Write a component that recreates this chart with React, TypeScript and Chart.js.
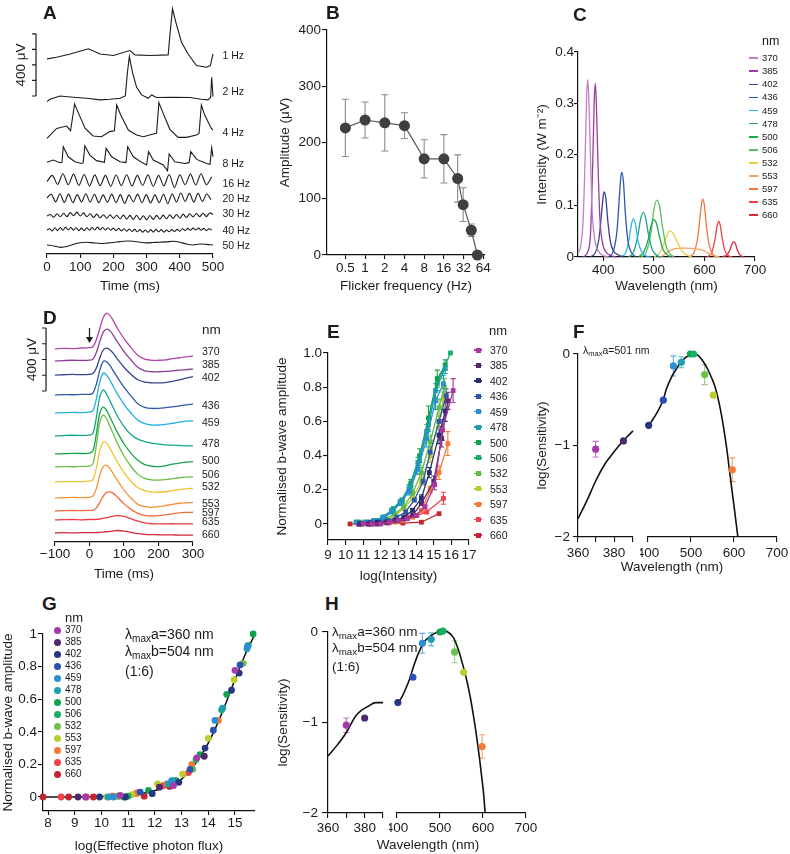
import React, { useEffect, useRef } from 'react';
import { Chart, registerables } from 'chart.js';

Chart.register(...registerables);

const FONT = "'Liberation Sans', Arial, Helvetica, sans-serif";
const INK = '#1b1b1b';
Chart.defaults.font.family = FONT;
Chart.defaults.color = INK;

// ---------------- Panel A: flicker ERG traces ----------------
const A_LABELS = ['1 Hz', '2 Hz', '4 Hz', '8 Hz', '16 Hz', '20 Hz', '30 Hz', '40 Hz', '50 Hz'];
const A_OFFSET = [1258, 1000, 780, 593, 477, 361, 245, 155, 58];
const A_T1 = [0, 29, 70, 125, 160, 200, 250, 265, 310, 365, 370, 378, 388, 405, 425, 450, 480, 492, 500];
const A_V1 = [0, 11, 32, 65, 32, 22, 54, 26, 22, 26, 150, 323, 237, 108, 32, -43, -54, -43, 32];
const A_T2 = [0, 9, 39, 79, 120, 160, 190, 220, 236, 242, 248, 258, 270, 285, 305, 315, 330, 380, 430, 465, 485, 493, 496, 500];
const A_V2 = [-17, -2, 19, 11, 4, -6, -2, 4, 19, 166, 273, 166, 75, 26, 4, 26, 9, 11, 9, -2, -6, 11, 140, 15];
const A_T4 = [0, 29, 59, 71, 83, 95, 115, 139, 164, 189, 203, 210, 222, 245, 270, 290, 320, 330, 337, 350, 370, 395, 420, 450, 458, 465, 475, 495, 500];
const A_V4 = [-34, 30, 45, 15, 187, 127, 30, -19, -24, 9, 15, 181, 116, 19, -13, -24, -6, -2, 196, 127, 24, -28, -28, -13, -2, 181, 116, 30, 19];
const A_T8 = [0, 19, 39, 45, 49, 64, 84, 104, 109, 114, 129, 149, 173, 178, 195, 220, 238, 243, 260, 285, 300, 306, 320, 350, 363, 368, 385, 415, 428, 433, 451, 481, 491, 496, 500];
const A_V8 = [-2, 13, -4, -2, 99, 34, 2, -9, -4, 105, 45, 9, -2, 88, 34, 2, -4, 99, 34, -2, -19, 67, 13, -19, -56, 52, 2, -9, -4, 67, 17, -9, -15, 92, 34];
const A_T16 = [0, 16, 32, 48, 64, 80, 96, 112, 128, 144, 160, 176, 192, 208, 224, 240, 256, 272, 288, 304, 320, 336, 352, 368, 384, 400, 416, 432, 448, 464, 480, 496];
const A_V16 = [-10, 30, -28, 40, -30, 38, -35, 36, -38, 33, -36, 30, -40, 32, -36, 34, -38, 30, -35, 33, -40, 30, -38, 36, -48, 34, -30, 38, -32, 40, -30, 20];
const A_T20 = [0, 13, 26, 39, 52, 65, 78, 91, 104, 117, 130, 143, 156, 169, 182, 195, 208, 221, 234, 247, 260, 273, 286, 299, 312, 325, 338, 351, 364, 377, 390, 403, 416, 429, 442, 455, 468, 481, 494];
const A_V20 = [0, 25, -25, 28, -28, 25, -30, 22, -25, 28, -26, 24, -30, 20, -28, 25, -30, 22, -35, 20, -25, 25, -30, 22, -32, 20, -30, 24, -36, 28, -26, 32, -22, 30, -26, 30, -22, 26, -10];
const A_T30 = [0, 10, 20, 30, 40, 50, 60, 70, 80, 90, 100, 110, 120, 130, 140, 150, 160, 170, 180, 190, 200, 210, 220, 230, 240, 250, 260, 270, 280, 290, 300, 310, 320, 330, 340, 350, 360, 370, 380, 390, 400, 410, 420, 430, 440, 450, 460, 470, 480, 490, 500];
const A_V30 = [0, 10, -8, 15, -5, 18, -4, 22, 2, 25, 0, 20, -5, 15, -10, 12, -12, 8, -15, 8, -15, 5, -18, 6, -20, 4, -22, 5, -24, 2, -25, 3, -22, 4, -20, 6, -18, 8, -16, 10, -14, 12, -10, 15, -6, 16, -4, 18, -4, 20, 10];
const A_T40 = [0, 8, 16, 24, 32, 40, 48, 56, 64, 72, 80, 88, 96, 104, 112, 120, 128, 136, 144, 152, 160, 168, 176, 184, 192, 200, 208, 216, 224, 232, 240, 248, 256, 264, 272, 280, 288, 296, 304, 312, 320, 328, 336, 344, 352, 360, 368, 376, 384, 392, 400, 408, 416, 424, 432, 440, 448, 456, 464, 472, 480, 488, 496];
const A_V40 = [0, 8, -6, 14, -4, 16, -2, 18, 0, 16, -2, 14, -4, 12, -4, 14, -2, 16, 0, 18, 2, 16, 0, 14, -2, 12, -4, 10, -6, 8, -8, 6, -10, 4, -12, 2, -14, 0, -15, 2, -14, 4, -12, 2, -14, 0, -12, 2, -10, 4, -8, 8, -4, 10, -2, 12, 0, 12, -2, 10, -4, 8, 0];
const A_T50 = [0, 20, 40, 60, 80, 100, 120, 140, 160, 180, 200, 220, 240, 260, 280, 300, 320, 340, 360, 380, 400, 420, 440, 460, 480, 500];
const A_V50 = [0, -6, -15, -10, 5, 15, 18, 14, 10, 12, 16, 22, 26, 24, 18, 14, 16, 18, 20, 24, 18, 6, 0, 6, 4, 0];
const A_TENSION = [0, 0, 0, 0, 0.3, 0.3, 0.3, 0.3, 0.3];
const A_XTICKS = [0, 100, 200, 300, 400, 500];
const A_BAR = [1019, 1119, 1219, 1319, 1419];

// ---------------- Panel B: flicker amplitude ----------------
const B_FREQ = [0.5, 1, 2, 4, 8, 16, 26, 31.5, 42, 52];
const B_AMP = [226, 240, 235, 230, 171, 171, 136, 89.5, 44, 0];
const B_ERR = [51, 32, 50, 23, 34, 43, 42, 30, 11, 0];
const B_XTICKS = [0.5, 1, 2, 4, 8, 16, 32, 64];
const B_YTICKS = [0, 100, 200, 300, 400];

// ---------------- Shared wavelengths ----------------
const NM = ['370', '385', '402', '436', '459', '478', '500', '506', '532', '553', '597', '635', '660'];

// ---------------- Panel C: LED spectra ----------------
const C_COL = ['#c47fcb', '#9c3da3', '#37418f', '#2f58ad', '#2cb3e6', '#21a386', '#1fa750', '#5dbf5c', '#e9cf3a', '#f5a469', '#f4753a', '#ef4048', '#e02a3a'];
const C_WL = [
  [350, 355, 360, 364, 367, 369, 371, 374, 378, 383, 390, 400, 410],
  [360, 370, 375, 379, 382, 384, 386, 389, 393, 398, 405, 415, 425],
  [375, 385, 392, 397, 400, 402, 405, 409, 414, 420, 430, 440],
  [410, 420, 427, 432, 435, 437, 440, 444, 449, 456, 465],
  [435, 445, 451, 456, 460, 464, 469, 476, 485, 495],
  [450, 460, 468, 474, 479, 484, 490, 498, 508, 515],
  [470, 480, 489, 495, 500, 505, 511, 518, 527, 535],
  [475, 485, 494, 500, 506, 511, 517, 524, 532, 540],
  [500, 510, 518, 525, 532, 538, 546, 555, 565, 575],
  [515, 525, 535, 545, 560, 575, 590, 600, 610, 620, 630],
  [570, 580, 587, 592, 595, 597, 600, 604, 609, 616, 625],
  [605, 614, 620, 625, 628, 631, 635, 640, 647, 655],
  [635, 644, 650, 655, 658, 661, 665, 670, 678],
];
const C_I = [
  [0.008, 0.02, 0.07, 0.19, 0.31, 0.346, 0.32, 0.22, 0.09, 0.035, 0.012, 0.003, 0],
  [0, 0.012, 0.05, 0.18, 0.3, 0.339, 0.31, 0.2, 0.08, 0.03, 0.01, 0.003, 0],
  [0, 0.01, 0.04, 0.09, 0.12, 0.127, 0.115, 0.07, 0.03, 0.012, 0.004, 0],
  [0, 0.012, 0.05, 0.12, 0.158, 0.165, 0.145, 0.08, 0.03, 0.008, 0],
  [0, 0.01, 0.035, 0.065, 0.075, 0.062, 0.03, 0.01, 0.002, 0],
  [0, 0.01, 0.04, 0.075, 0.087, 0.075, 0.04, 0.012, 0.002, 0],
  [0, 0.01, 0.035, 0.063, 0.073, 0.066, 0.04, 0.015, 0.004, 0],
  [0, 0.01, 0.045, 0.092, 0.111, 0.1, 0.06, 0.022, 0.006, 0],
  [0, 0.006, 0.02, 0.04, 0.051, 0.046, 0.03, 0.013, 0.004, 0],
  [0, 0.008, 0.014, 0.017, 0.0175, 0.017, 0.015, 0.012, 0.006, 0.002, 0],
  [0, 0.01, 0.04, 0.085, 0.108, 0.113, 0.1, 0.06, 0.025, 0.006, 0],
  [0, 0.008, 0.03, 0.06, 0.07, 0.063, 0.038, 0.014, 0.003, 0],
  [0, 0.004, 0.013, 0.026, 0.03, 0.027, 0.014, 0.004, 0],
];

// ---------------- Panel D: spectral ERG traces ----------------
const D_COL = ['#b145ad', '#8e3c99', '#38468f', '#2f58ad', '#25aee3', '#16a58a', '#17a24a', '#6bbf45', '#f2c230', '#f5923a', '#f26b3d', '#ee3b45', '#cf2a3a'];
const D_OFFSET = [1226, 1149, 1060, 933, 819, 673, 559, 476, 381, 279, 197, 140, 57];
const D_T = [-100, -75, -50, -25, 0, 10, 20, 30, 40, 50, 60, 70, 80, 100, 120, 140, 160, 180, 200, 220, 240, 260, 280, 300];
const D_V = [
  [0, 4, 2, 6, 8, 14, 60, 130, 200, 227, 210, 175, 135, 65, 10, -40, -65, -72, -72, -70, -62, -56, -50, -45],
  [0, 3, 5, 4, 6, 12, 55, 125, 185, 203, 190, 160, 125, 60, 8, -40, -62, -68, -68, -66, -62, -58, -54, -51],
  [0, 2, 4, 3, 5, 10, 45, 110, 160, 171, 160, 135, 105, 50, 5, -30, -45, -49, -49, -48, -40, -30, -20, -10],
  [0, 3, 2, 4, 5, 12, 70, 160, 214, 210, 185, 150, 115, 50, -5, -55, -78, -85, -84, -80, -75, -68, -62, -57],
  [0, 2, 4, 3, 6, 15, 90, 200, 254, 240, 205, 165, 125, 55, 0, -45, -68, -76, -76, -72, -66, -58, -52, -49],
  [0, 3, 5, 4, 6, 18, 120, 250, 292, 265, 220, 175, 130, 60, 10, -20, -35, -45, -52, -56, -58, -60, -62, -62],
  [0, 2, 4, 3, 5, 20, 130, 260, 298, 275, 230, 185, 140, 65, 5, -40, -68, -78, -80, -75, -65, -58, -52, -49],
  [0, 3, 2, 4, 6, 22, 140, 285, 330, 305, 255, 205, 155, 70, 5, -45, -72, -82, -83, -80, -74, -68, -64, -61],
  [0, 2, 3, 2, 5, 15, 90, 200, 255, 245, 210, 170, 130, 60, 5, -35, -55, -63, -65, -62, -55, -48, -43, -40],
  [0, 2, 4, 3, 5, 12, 60, 145, 200, 208, 185, 150, 115, 50, 0, -40, -55, -59, -55, -48, -40, -33, -30, -27],
  [0, 2, 3, 2, 4, 6, 20, 55, 95, 118, 121, 110, 90, 45, 10, -15, -28, -32, -30, -25, -18, -12, -9, -8],
  [0, 2, 3, 1, 3, 3, 4, 6, 10, 15, 20, 24, 27, 22, 8, -8, -18, -24, -25, -25, -24, -25, -25, -25],
  [0, 2, 1, 2, 2, 2, 3, 4, 6, 8, 10, 13, 16, 12, 4, -4, -8, -10, -11, -12, -12, -13, -13, -13],
];
const D_XTICKS = [-100, 0, 100, 200, 300];
const D_BAR = [959, 1059, 1159, 1259, 1359];

// ---------------- Panel E: intensity-response ----------------
const E_COL = ['#a8379f', '#55296f', '#272f6e', '#2e57aa', '#2a8fd1', '#1f9db1', '#11a04e', '#17ab6a', '#5fbb46', '#bfca32', '#f47b37', '#f1404d', '#c4262f'];
const E_X = [
  [11.0, 11.5, 12.0, 12.5, 13.0, 13.5, 14.0, 14.5, 15.05, 15.5, 16.1],
  [10.8, 11.3, 11.8, 12.3, 12.8, 13.3, 13.8, 14.3, 15.0, 15.45, 15.8],
  [10.8, 11.3, 11.8, 12.3, 12.8, 13.3, 13.8, 14.3, 14.75, 15.3, 15.65],
  [10.9, 11.4, 11.9, 12.4, 12.9, 13.4, 13.9, 14.4, 14.8, 15.3, 15.7],
  [10.6, 11.1, 11.6, 12.1, 12.6, 13.1, 13.6, 14.1, 14.6, 15.1, 15.55],
  [10.6, 11.1, 11.6, 12.1, 12.6, 13.1, 13.6, 14.1, 14.6, 15.1, 15.65],
  [10.7, 11.2, 11.7, 12.2, 12.7, 13.2, 13.7, 14.2, 14.7, 15.2, 15.65],
  [10.7, 11.2, 11.7, 12.2, 12.7, 13.2, 13.7, 14.2, 14.7, 15.2, 15.95],
  [10.8, 11.3, 11.8, 12.3, 12.8, 13.3, 13.8, 14.3, 14.8, 15.3, 15.6],
  [10.8, 11.3, 11.8, 12.3, 12.8, 13.3, 13.8, 14.3, 14.8, 15.3, 15.55],
  [10.8, 11.3, 11.8, 12.3, 12.8, 13.3, 13.8, 14.3, 14.8, 15.3, 15.8],
  [10.7, 11.5, 12.3, 13.15, 13.5, 14.05, 14.6, 15.55],
  [10.25, 11.5, 12.4, 13.25, 14.3, 15.3],
];
const E_Y = [
  [0, 0, 0, 0.01, 0.02, 0.03, 0.05, 0.1, 0.23, 0.55, 0.78],
  [0, 0, 0, 0.01, 0.02, 0.03, 0.05, 0.12, 0.25, 0.5, 0.72],
  [0, 0, 0.01, 0.01, 0.02, 0.04, 0.08, 0.15, 0.3, 0.52, 0.66],
  [0, 0.01, 0.01, 0.02, 0.04, 0.07, 0.14, 0.25, 0.42, 0.6, 0.75],
  [0.01, 0.01, 0.02, 0.03, 0.07, 0.12, 0.19, 0.32, 0.5, 0.72, 0.82],
  [0.01, 0.01, 0.02, 0.04, 0.08, 0.13, 0.21, 0.36, 0.54, 0.78, 0.91],
  [0.01, 0.01, 0.02, 0.04, 0.09, 0.14, 0.24, 0.4, 0.62, 0.85, 0.93],
  [0.01, 0.01, 0.02, 0.04, 0.08, 0.13, 0.22, 0.37, 0.58, 0.82, 1.0],
  [0.01, 0.01, 0.02, 0.03, 0.06, 0.1, 0.18, 0.3, 0.48, 0.68, 0.8],
  [0, 0.01, 0.01, 0.02, 0.05, 0.09, 0.15, 0.25, 0.4, 0.6, 0.73],
  [0, 0, 0, 0.01, 0.01, 0.02, 0.04, 0.08, 0.2, 0.3, 0.47],
  [0, 0, 0.01, 0.02, 0.04, 0.05, 0.07, 0.15],
  [0, 0, 0.005, 0.005, 0.01, 0.06],
];
const E_ERR = [
  [0, 0, 0, 0, 0, 0, 0, 0.01, 0.03, 0.06, 0.07],
  [0, 0, 0, 0, 0, 0, 0, 0.01, 0.03, 0.05, 0.05],
  [0, 0, 0, 0, 0, 0, 0.01, 0.02, 0.03, 0.05, 0.06],
  [0, 0, 0, 0, 0, 0.01, 0.01, 0.02, 0.03, 0.04, 0.04],
  [0, 0, 0, 0, 0.01, 0.01, 0.02, 0.03, 0.05, 0.05, 0.05],
  [0, 0, 0, 0, 0, 0.01, 0.02, 0.03, 0.04, 0.04, 0.03],
  [0, 0, 0, 0, 0, 0.01, 0.02, 0.04, 0.07, 0.05, 0.03],
  [0, 0, 0, 0, 0, 0.01, 0.02, 0.03, 0.04, 0.04, 0],
  [0, 0, 0, 0, 0, 0.01, 0.02, 0.03, 0.04, 0.05, 0.05],
  [0, 0, 0, 0, 0, 0.01, 0.01, 0.02, 0.04, 0.04, 0.04],
  [0, 0, 0, 0, 0, 0, 0.01, 0.01, 0.02, 0.04, 0.07],
  [0, 0, 0, 0, 0, 0, 0.01, 0.035],
  [0, 0, 0, 0, 0, 0],
];
const E_XTICKS = [9, 10, 11, 12, 13, 14, 15, 16, 17];
const E_YTICKS = [0, 0.2, 0.4, 0.6, 0.8, 1.0];

// ---------------- Panel G: normalised vs effective flux ----------------
const G_COL = ['#a63aa9', '#4d2969', '#263682', '#2a52b0', '#2a8ed4', '#1e9db5', '#12a150', '#16b064', '#6cc04a', '#bccd31', '#f47b37', '#f0404b', '#c02632'];
const G_X = [
  [9.4, 10.7, 12.7, 13.57, 15.0],
  [9.12, 12.17, 13.85],
  [9.93, 10.9, 11.9, 12.9, 13.88, 14.87, 15.16],
  [11.45, 13.32, 14.19, 15.19],
  [10.45, 12.63, 14.25, 15.47],
  [10.25, 12.5, 14.54, 15.45],
  [10.83, 11.76, 12.76, 13.69, 14.69, 15.68],
  [11.0, 12.8, 13.54, 14.5, 15.5],
  [10.6, 13.42, 15.31],
  [10.2, 11.14, 12.1, 13.04, 14.0, 14.97],
  [10.45, 11.3, 12.45, 13.38, 14.38],
  [8.49, 9.43, 10.4, 11.33, 12.3, 13.26],
  [7.81, 8.77, 9.7, 10.64, 11.6, 12.55],
];
const G_Y = [
  [0, 0.01, 0.07, 0.24, 0.777],
  [0, 0.06, 0.25],
  [0, 0, 0.02, 0.09, 0.3, 0.655, 0.76],
  [0.03, 0.17, 0.41, 0.81],
  [0, 0.1, 0.47, 0.925],
  [0, 0.08, 0.545, 0.91],
  [0, 0.04, 0.1, 0.26, 0.63, 1.0],
  [0.005, 0.1, 0.23, 0.535, 0.93],
  [0.005, 0.17, 0.82],
  [0, 0.015, 0.08, 0.14, 0.36, 0.72],
  [0.005, 0.02, 0.08, 0.2, 0.47],
  [0, 0, 0.005, 0.025, 0.07, 0.15],
  [0, 0, 0, 0.005, 0.005, 0.065],
];
const G_FIT_X = [7.81, 9, 10, 10.5, 11, 11.5, 12, 12.5, 13, 13.5, 14, 14.5, 15, 15.4, 15.75];
const G_FIT_Y = [0, 0, 0.003, 0.006, 0.012, 0.022, 0.04, 0.065, 0.11, 0.2, 0.33, 0.51, 0.72, 0.88, 1.0];
const G_XTICKS = [8, 9, 10, 11, 12, 13, 14, 15];
const G_YTICKS = [0, 0.2, 0.4, 0.6, 0.8, 1];

// ---------------- Panels F & H: spectral sensitivity ----------------
const F_WL = [369.8, 385.2, 401.5, 435.6, 458.9, 477.5, 498.5, 506, 531.7, 551.9, 596];
const F_LOGS = [-1.04, -0.95, -0.78, -0.505, -0.13, -0.09, 0, 0, -0.225, -0.45, -1.265];
const F_ERR = [0.085, 0, 0, 0, 0.11, 0.06, 0, 0, 0.11, 0, 0.13];
const F_FITL_X = [360, 365, 370, 375, 378, 382, 385, 388, 390.5];
const F_FITL_Y = [-1.8, -1.6, -1.38, -1.2, -1.12, -1.02, -0.95, -0.89, -0.84];
const F_FITR_X = [402, 412, 424, 435, 443, 455, 467, 480, 490, 500, 508, 515, 525, 536, 546, 556, 566, 575, 583, 591, 600, 609];
const F_FITR_Y = [-0.78, -0.71, -0.615, -0.505, -0.38, -0.25, -0.155, -0.07, -0.03, -0.005, 0, -0.01, -0.06, -0.14, -0.24, -0.36, -0.55, -0.78, -1.03, -1.33, -1.66, -2.0];

const H_WL = [370, 380, 402, 437, 459, 479.5, 500, 507, 534, 555, 598];
const H_LOGS = [-1.03, -0.95, -0.78, -0.5, -0.125, -0.08, 0, 0.01, -0.22, -0.445, -1.265];
const H_ERR = [0.08, 0, 0, 0, 0.11, 0.07, 0, 0, 0.12, 0, 0.13];
const H_FITL_X = [360, 365, 370, 375, 378, 382, 386, 390];
const H_FITL_Y = [-1.37, -1.25, -1.11, -0.93, -0.87, -0.82, -0.78, -0.78];
const H_FITR_X = [402, 410, 420, 430, 440, 453, 465, 476, 490, 500, 508, 518, 531, 543, 554, 562, 570, 578, 585, 592, 597, 602, 605];
const H_FITR_Y = [-0.78, -0.73, -0.63, -0.51, -0.36, -0.2, -0.1, -0.05, -0.01, 0.01, 0.02, 0, -0.06, -0.2, -0.38, -0.53, -0.71, -0.93, -1.15, -1.4, -1.6, -1.82, -2.0];
const S_YTICKS = [-2, -1, 0];

// ---------------- helpers ----------------
const zip = (xs: number[], ys: number[]) => xs.map((x, i) => ({ x, y: ys[i] }));
const fmtNum = (v: number) => (v < 0 ? '\u2212' + Math.abs(v) : String(v));

type Pad = { left: number; right: number; top: number; bottom: number };
type Geo = { x: number; y: number; w: number; h: number; pad: Pad };

function axis(p: any) {
  return {
    type: p.type || 'linear',
    display: p.display !== false,
    bounds: 'data',
    min: p.min,
    max: p.max,
    afterBuildTicks: (s: any) => {
      if (p.ticks) s.ticks = p.ticks.map((v: number) => ({ value: v }));
    },
    afterFit: (s: any) => {
      if (p.fitW != null) s.width = p.fitW;
      if (p.fitH != null) s.height = p.fitH;
      s.paddingLeft = 0;
      s.paddingRight = 0;
      s.paddingTop = 0;
      s.paddingBottom = 0;
    },
    ticks: {
      font: { size: 13.5, family: FONT },
      color: INK,
      padding: p.pad ?? 1,
      autoSkip: false,
      maxRotation: 0,
      minRotation: 0,
      callback: (v: any) => (p.labels ? p.labels(Number(v)) : fmtNum(Number(v))),
    },
    grid: { display: true, drawOnChartArea: false, drawTicks: true, tickLength: p.tickLen ?? 5, color: '#111', lineWidth: 1.1 },
    border: { display: true, color: '#111', width: 1.2 },
    title: p.title
      ? { display: true, text: p.title, font: { size: 13.5, family: FONT }, color: INK, padding: 0 }
      : { display: false },
  };
}

function options(g: Geo, scales: any, plugins: any = {}) {
  return {
    responsive: false,
    maintainAspectRatio: false,
    animation: false,
    events: [],
    layout: { padding: g.pad, autoPadding: false },
    plugins: { legend: { display: false }, tooltip: { enabled: false }, ...plugins },
    scales,
  };
}

const lineDs = (data: any[], color: string, width: number, extra: any = {}) => ({
  data,
  borderColor: color,
  backgroundColor: color,
  borderWidth: width,
  pointRadius: 0,
  tension: 0,
  fill: false,
  clip: false,
  ...extra,
});

// error bars, drawn underneath the datasets
const errorBarPlugin = {
  id: 'errbars',
  beforeDatasetsDraw(chart: any) {
    const ctx = chart.ctx;
    chart.data.datasets.forEach((ds: any, i: number) => {
      if (!ds.errors) return;
      const meta = chart.getDatasetMeta(i);
      const ys = chart.scales[meta.yAxisID];
      const cap = ds.capW ?? 3;
      ds.data.forEach((p: any, j: number) => {
        const e = ds.errors[j];
        if (!e) return;
        const el = meta.data[j];
        if (!el) return;
        const x = el.x;
        const y1 = ys.getPixelForValue(p.y + e);
        const y2 = ys.getPixelForValue(p.y - e);
        ctx.save();
        ctx.strokeStyle = Array.isArray(ds.errColor) ? ds.errColor[j] : ds.errColor || ds.borderColor;
        ctx.lineWidth = ds.errWidth || 1.1;
        ctx.beginPath();
        ctx.moveTo(x, y1);
        ctx.lineTo(x, y2);
        ctx.moveTo(x - cap, y1);
        ctx.lineTo(x + cap, y1);
        ctx.moveTo(x - cap, y2);
        ctx.lineTo(x + cap, y2);
        ctx.stroke();
        ctx.restore();
      });
    });
  },
};

// scale bars and stimulus arrow, positioned through the chart scales
const annotPlugin = {
  id: 'annot',
  afterDatasetsDraw(chart: any, _a: any, opts: any) {
    const ctx = chart.ctx;
    const xs = chart.scales.x;
    const ys = chart.scales.y;
    ctx.save();
    ctx.strokeStyle = INK;
    ctx.fillStyle = INK;
    ctx.lineWidth = 1.2;
    const b = opts && opts.bar;
    if (b) {
      const x = xs.getPixelForValue(b.x);
      const y0 = ys.getPixelForValue(b.ticks[0]);
      const y1 = ys.getPixelForValue(b.ticks[b.ticks.length - 1]);
      ctx.beginPath();
      ctx.moveTo(x, y0);
      ctx.lineTo(x, y1);
      for (const v of b.ticks) {
        const y = ys.getPixelForValue(v);
        ctx.moveTo(x - 4, y);
        ctx.lineTo(x, y);
      }
      ctx.stroke();
      ctx.save();
      ctx.translate(x - b.gap, (y0 + y1) / 2);
      ctx.rotate(-Math.PI / 2);
      ctx.font = `13.5px ${FONT}`;
      ctx.textAlign = 'center';
      ctx.textBaseline = 'middle';
      ctx.fillText(b.label, 0, 0);
      ctx.restore();
    }
    const a = opts && opts.arrow;
    if (a) {
      const x = xs.getPixelForValue(a.x);
      const y0 = ys.getPixelForValue(a.from);
      const y1 = ys.getPixelForValue(a.to);
      ctx.beginPath();
      ctx.moveTo(x, y0);
      ctx.lineTo(x, y1 - 5);
      ctx.stroke();
      ctx.beginPath();
      ctx.moveTo(x - 3.5, y1 - 6);
      ctx.lineTo(x + 3.5, y1 - 6);
      ctx.lineTo(x, y1);
      ctx.closePath();
      ctx.fill();
    }
    ctx.restore();
  },
};

// ---------------- geometry ----------------
const A_GEO: Geo = { x: 0, y: 0, w: 260, h: 294, pad: { left: 47, right: 47, top: 2, bottom: 0 } };
const B_GEO: Geo = { x: 277, y: 18, w: 222, h: 276, pad: { left: 0, right: 14, top: 12, bottom: 0 } };
const C_GEO: Geo = { x: 534, y: 40, w: 256, h: 254, pad: { left: 0, right: 35, top: 12, bottom: 0 } };
const D_GEO: Geo = { x: 0, y: 300, w: 240, h: 282, pad: { left: 55, right: 47, top: 5, bottom: 0 } };
const E_GEO: Geo = { x: 274, y: 340, w: 206, h: 244, pad: { left: 0, right: 11, top: 13, bottom: 0 } };
const FL_GEO: Geo = { x: 534, y: 342, w: 109, h: 220, pad: { left: 0, right: 10, top: 12, bottom: 0 } };
const FR_GEO: Geo = { x: 640, y: 342, w: 150, h: 220, pad: { left: 8, right: 13, top: 12, bottom: 0 } };
const G_GEO: Geo = { x: 0, y: 620, w: 265, h: 234, pad: { left: 0, right: 10, top: 14, bottom: 0 } };
const HL_GEO: Geo = { x: 275, y: 618, w: 118, h: 236, pad: { left: 0, right: 10, top: 14, bottom: 0 } };
const HR_GEO: Geo = { x: 389, y: 618, w: 151, h: 236, pad: { left: 8, right: 14, top: 14, bottom: 0 } };

// ---------------- chart builders ----------------
const A_SERIES = [
  [A_T1, A_V1], [A_T2, A_V2], [A_T4, A_V4], [A_T8, A_V8], [A_T16, A_V16],
  [A_T20, A_V20], [A_T30, A_V30], [A_T40, A_V40], [A_T50, A_V50],
];

function buildA() {
  return {
    type: 'line',
    data: {
      datasets: A_SERIES.map(([t, v], i) =>
        lineDs(zip(t, v.map((u) => u + A_OFFSET[i])), '#1b1b1b', 1.1, { tension: A_TENSION[i] })
      ),
    },
    options: options(
      A_GEO,
      {
        x: axis({ min: 0, max: 500, ticks: A_XTICKS, title: 'Time (ms)', tickLen: 4, pad: 1, fitH: 40 }),
        y: axis({ display: false, min: 0, max: 1625 }),
      },
      { annot: { bar: { x: -33, ticks: A_BAR, label: '400 \u03bcV', gap: 15 } } }
    ),
    plugins: [annotPlugin],
  };
}

function buildB() {
  return {
    type: 'line',
    data: {
      datasets: [
        {
          data: zip(B_FREQ, B_AMP),
          borderColor: '#5a5a5a',
          borderWidth: 1.2,
          pointRadius: 5.5,
          pointBackgroundColor: '#3f3f3f',
          pointBorderColor: '#3f3f3f',
          pointBorderWidth: 0,
          tension: 0,
          clip: false,
          errors: B_ERR,
          errColor: '#8d8d8d',
          capW: 3.5,
        },
      ],
    },
    options: options(B_GEO, {
      x: axis({ type: 'logarithmic', min: 0.262, max: 68, ticks: B_XTICKS, labels: (v: number) => String(v), title: 'Flicker frequency (Hz)', tickLen: 4, pad: 1, fitH: 39 }),
      y: axis({ min: 0, max: 400, ticks: B_YTICKS, title: 'Amplitude (\u03bcV)', tickLen: 5, pad: 1, fitW: 50 }),
    }),
    plugins: [errorBarPlugin],
  };
}

function buildC() {
  return {
    type: 'line',
    data: {
      datasets: C_WL.map((wl, i) => lineDs(zip(wl, C_I[i]), C_COL[i], 1.3, { cubicInterpolationMode: 'monotone' })),
    },
    options: options(C_GEO, {
      x: axis({ min: 350, max: 700, ticks: [400, 500, 600, 700], title: 'Wavelength (nm)', tickLen: 4, pad: 1, fitH: 37 }),
      y: axis({ min: 0, max: 0.4, ticks: [0, 0.1, 0.2, 0.3, 0.4], labels: (v: number) => (v === 0 ? '0' : v.toFixed(1)), title: 'Intensity (W m\u207b\u00b2)', tickLen: 4, pad: 0, fitW: 44 }),
    }),
  };
}

function buildD() {
  return {
    type: 'line',
    data: {
      datasets: D_V.map((v, i) => lineDs(zip(D_T, v.map((u) => u + D_OFFSET[i])), D_COL[i], 1.3, { tension: 0.35 })),
    },
    options: options(
      D_GEO,
      {
        x: axis({ min: -100, max: 300, ticks: D_XTICKS, title: 'Time (ms)', tickLen: 4, pad: 0, fitH: 40 }),
        y: axis({ display: false, min: 0, max: 1505 }),
      },
      { annot: { bar: { x: -126, ticks: D_BAR, label: '400 \u03bcV', gap: 14 }, arrow: { x: 0, from: 1359, to: 1264 } } }
    ),
    plugins: [annotPlugin],
  };
}

function buildE() {
  return {
    type: 'line',
    data: {
      datasets: E_X.map((xs, i) => ({
        data: zip(xs, E_Y[i]),
        borderColor: E_COL[i],
        backgroundColor: E_COL[i],
        borderWidth: 1.3,
        pointStyle: 'rect',
        pointRadius: 3.4,
        pointBackgroundColor: E_COL[i],
        pointBorderColor: E_COL[i],
        pointBorderWidth: 0,
        tension: 0,
        clip: false,
        errors: E_ERR[i],
        errColor: E_COL[i],
        capW: 2.5,
      })),
    },
    options: options(E_GEO, {
      x: axis({ min: 9, max: 17, ticks: E_XTICKS, title: 'log(Intensity)', tickLen: 5, pad: 2, fitH: 44 }),
      y: axis({ min: -0.094, max: 1.0, ticks: E_YTICKS, labels: (v: number) => (v === 0 ? '0' : v.toFixed(1)), title: 'Normalised b-wave amplitude', tickLen: 5, pad: 1, fitW: 54 }),
    }),
    plugins: [errorBarPlugin],
  };
}

function sensSets(wl: number[], s: number[], err: number[], lo: number, hi: number, fx: number[], fy: number[]) {
  const idx = wl.map((_, i) => i).filter((i) => wl[i] >= lo && wl[i] <= hi);
  const cols = idx.map((i) => G_COL[i]);
  return [
    {
      data: idx.map((i) => ({ x: wl[i], y: s[i] })),
      showLine: false,
      pointRadius: 3.6,
      pointBackgroundColor: cols,
      pointBorderColor: cols,
      pointBorderWidth: 0,
      clip: false,
      order: 0,
      errors: idx.map((i) => err[i]),
      errColor: cols.map((c) => c + 'bb'),
      capW: 3,
    },
    { ...lineDs(zip(fx, fy), '#111111', 1.6, { cubicInterpolationMode: 'monotone' }), order: 1 },
  ];
}

function buildSens(g: Geo, left: boolean, wl: number[], s: number[], err: number[], fx: number[], fy: number[], xTickLen: number, xPad: number, xH: number, yLen: number, yPad: number, yW: number) {
  const xAxis = left
    ? axis({ min: 360, max: g === FL_GEO ? 390.5 : 390, ticks: g === FL_GEO ? [360, 370, 380, 390.5] : [360, 370, 380, 390], labels: (v: number) => (v === 360 || v === 380 ? String(v) : ''), tickLen: xTickLen, pad: xPad, fitH: xH })
    : axis({ min: 400, max: 700, ticks: [400, 500, 600, 700], tickLen: xTickLen, pad: xPad, fitH: xH });
  const yAxis = left
    ? axis({ min: -2, max: 0, ticks: S_YTICKS, title: 'log(Sensitivity)', tickLen: yLen, pad: yPad, fitW: yW })
    : axis({ display: false, min: -2, max: 0 });
  return {
    type: 'line',
    data: { datasets: sensSets(wl, s, err, left ? 350 : 395, left ? 395 : 720, fx, fy) },
    options: options(g, { x: xAxis, y: yAxis }),
    plugins: [errorBarPlugin],
  };
}

const buildFL = () => buildSens(FL_GEO, true, F_WL, F_LOGS, F_ERR, F_FITL_X, F_FITL_Y, 5, 3, 25, 5, 3, 44);
const buildFR = () => buildSens(FR_GEO, false, F_WL, F_LOGS, F_ERR, F_FITR_X, F_FITR_Y, 5, 3, 25, 5, 3, 44);
const buildHL = () => buildSens(HL_GEO, true, H_WL, H_LOGS, H_ERR, H_FITL_X, H_FITL_Y, 5, 2, 41, 6, 4, 53);
const buildHR = () => buildSens(HR_GEO, false, H_WL, H_LOGS, H_ERR, H_FITR_X, H_FITR_Y, 5, 2, 41, 6, 4, 53);

function buildG() {
  const pts = G_X.map((xs, i) => ({
    data: zip(xs, G_Y[i]),
    showLine: false,
    pointRadius: 3.4,
    pointBackgroundColor: G_COL[i],
    pointBorderColor: G_COL[i],
    pointBorderWidth: 0,
    clip: false,
    order: 0,
  }));
  return {
    type: 'line',
    data: {
      datasets: [...pts, { ...lineDs(zip(G_FIT_X, G_FIT_Y), '#111111', 1.5, { cubicInterpolationMode: 'monotone' }), order: 1 }],
    },
    options: options(G_GEO, {
      x: axis({ min: 7.81, max: 15.75, ticks: G_XTICKS, title: 'log(Effective photon flux)', tickLen: 4, pad: 0, fitH: 43 }),
      y: axis({ min: -0.086, max: 1, ticks: G_YTICKS, labels: (v: number) => (v === 0 ? '0' : v === 1 ? '1' : v.toFixed(1)), title: 'Normalised b-wave amplitude', tickLen: 5, pad: 1, fitW: 43 }),
    }),
  };
}

// ---------------- React ----------------
function ChartCanvas({ geo, build }: { geo: Geo; build: () => any }) {
  const ref = useRef<HTMLCanvasElement | null>(null);
  useEffect(() => {
    if (!ref.current) return;
    const chart = new Chart(ref.current, build());
    return () => chart.destroy();
  }, []);
  return (
    <canvas
      ref={ref}
      width={geo.w}
      height={geo.h}
      style={{ position: 'absolute', left: geo.x, top: geo.y, width: geo.w, height: geo.h }}
    />
  );
}

function T({ x, y, s = 13.5, a = 'start', b = false, children }: any) {
  const tx = a === 'middle' ? '-50%' : a === 'end' ? '-100%' : '0%';
  return (
    <div
      style={{
        position: 'absolute',
        left: x,
        top: y,
        fontSize: s,
        fontWeight: b ? 700 : 400,
        lineHeight: 1,
        whiteSpace: 'nowrap',
        transform: `translate(${tx}, -50%)`,
      }}
    >
      {children}
    </div>
  );
}

function Lam({ sub, rest }: { sub: string; rest: string }) {
  return (
    <span>
      λ<span style={{ fontSize: '0.72em', position: 'relative', top: '0.3em' }}>{sub}</span>
      {rest}
    </span>
  );
}

const A_LABEL_Y = [55, 91, 132, 163, 183, 198, 213, 230, 245];
const D_LABEL_Y = [351, 364, 377, 405, 422, 443, 460, 474, 486, 503, 512, 521, 534];

export default function App() {
  return (
    <div
      style={{
        position: 'absolute',
        left: 0,
        top: 0,
        width: 790,
        height: 854,
        background: '#fff',
        fontFamily: FONT,
        color: INK,
        overflow: 'hidden',
      }}
    >
      <ChartCanvas geo={A_GEO} build={buildA} />
      <ChartCanvas geo={B_GEO} build={buildB} />
      <ChartCanvas geo={C_GEO} build={buildC} />
      <ChartCanvas geo={D_GEO} build={buildD} />
      <ChartCanvas geo={E_GEO} build={buildE} />
      <ChartCanvas geo={FL_GEO} build={buildFL} />
      <ChartCanvas geo={FR_GEO} build={buildFR} />
      <ChartCanvas geo={G_GEO} build={buildG} />
      <ChartCanvas geo={HL_GEO} build={buildHL} />
      <ChartCanvas geo={HR_GEO} build={buildHR} />

      {/* panel letters */}
      <T x={43} y={11.5} s={19} b>A</T>
      <T x={326} y={11.5} s={19} b>B</T>
      <T x={573} y={14} s={19} b>C</T>
      <T x={43} y={316.5} s={19} b>D</T>
      <T x={327} y={331} s={19} b>E</T>
      <T x={573} y={331} s={19} b>F</T>
      <T x={42} y={603} s={19} b>G</T>
      <T x={325} y={603} s={19} b>H</T>

      {/* A trace labels */}
      {A_LABELS.map((l, i) => (
        <T key={'a' + i} x={222.5} y={A_LABEL_Y[i]} s={10.5}>{l}</T>
      ))}

      {/* C legend */}
      <T x={762} y={41} s={12.5}>nm</T>
      {NM.map((n, i) => (
        <React.Fragment key={'c' + i}>
          <div style={{ position: 'absolute', left: 749, top: 58.3 + 13.06 * i - 0.9, width: 9, height: 1.8, background: C_COL[i] }} />
          <T x={762} y={58.3 + 13.06 * i} s={9.5}>{n}</T>
        </React.Fragment>
      ))}

      {/* D labels */}
      <T x={202} y={330} s={13.5}>nm</T>
      {NM.map((n, i) => (
        <T key={'d' + i} x={202} y={D_LABEL_Y[i]} s={10.5}>{n}</T>
      ))}

      {/* E legend */}
      <T x={489} y={330} s={13}>nm</T>
      {NM.map((n, i) => (
        <React.Fragment key={'e' + i}>
          <div style={{ position: 'absolute', left: 474, top: 350 + 15.42 * i - 0.75, width: 8, height: 1.5, background: E_COL[i] }} />
          <div style={{ position: 'absolute', left: 475.5, top: 350 + 15.42 * i - 2.5, width: 5, height: 5, background: E_COL[i] }} />
          <T x={490} y={350 + 15.42 * i} s={10.5}>{n}</T>
        </React.Fragment>
      ))}

      {/* F annotations */}
      <T x={583} y={350} s={10.5}><Lam sub="max" rest="a=501 nm" /></T>
      <T x={672} y={567} s={13.5} a="middle">Wavelength (nm)</T>

      {/* G legend + annotation */}
      <T x={65} y={617} s={13}>nm</T>
      {NM.map((n, i) => (
        <React.Fragment key={'g' + i}>
          <div style={{ position: 'absolute', left: 54, top: 630 + 12.03 * i - 3.5, width: 7, height: 7, borderRadius: '50%', background: G_COL[i] }} />
          <T x={65} y={630 + 12.03 * i} s={10}>{n}</T>
        </React.Fragment>
      ))}
      <T x={125} y={634} s={14}><Lam sub="max" rest="a=360 nm" /></T>
      <T x={125} y={651} s={14}><Lam sub="max" rest="b=504 nm" /></T>
      <T x={125} y={671} s={14}>(1:6)</T>

      {/* H annotation */}
      <T x={332} y={632} s={13.5}><Lam sub="max" rest="a=360 nm" /></T>
      <T x={332} y={648} s={13.5}><Lam sub="max" rest="b=504 nm" /></T>
      <T x={332} y={667} s={13.5}>(1:6)</T>
      <T x={428} y={845} s={13.5} a="middle">Wavelength (nm)</T>
    </div>
  );
}
